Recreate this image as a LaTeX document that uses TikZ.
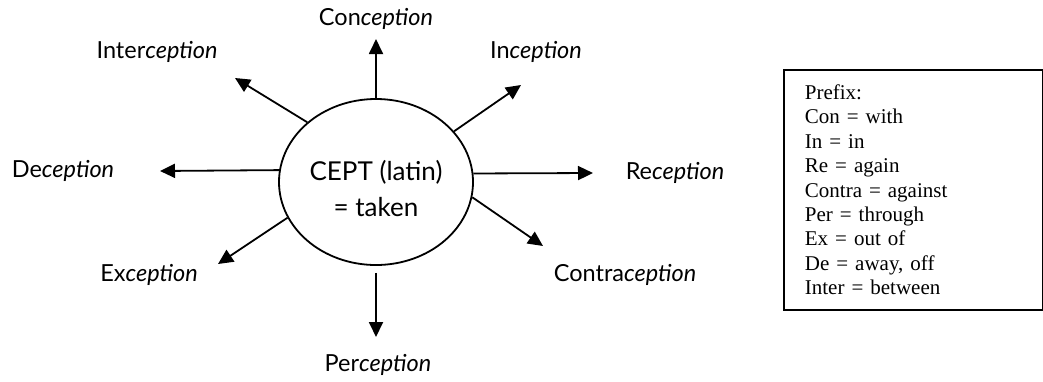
\documentclass[tikz,border=0pt]{standalone}
\usepackage{fontspec}
\setmainfont{Lato}
\newfontfamily\legendfont{Liberation Serif}
\usetikzlibrary{arrows.meta,shapes.geometric,calc}
\begin{document}
\begin{tikzpicture}[x=1pt,y=-1pt,
  arr/.style={line width=1.8pt,-{Triangle[length=15pt,width=14pt]}},
  lab/.style={font=\fontsize{23.5}{28}\selectfont, inner sep=0pt},
  cept/.style={ellipse, draw, line width=1.8pt, minimum width=194pt, minimum height=166pt, inner sep=0pt,
    font=\fontsize{26}{36}\selectfont},
  legendbox/.style={draw, line width=1.8pt, minimum width=259pt, minimum height=240pt,
    inner xsep=21pt, inner ysep=0pt, text width=217pt, align=left,
    font=\legendfont\fontsize{21}{24.4}\selectfont}]
\useasboundingbox (0,0) rectangle (1043,381);

\node[cept] (c) at (376,182) {\raisebox{-9pt}[\height][\depth]{\begin{tabular}{@{}c@{}}CEPT (latin)\\= taken\end{tabular}}};

\node[lab] (conc) at (376,19) {Con\textit{ception}};
\node[lab] (inter) at (157,52) {Inter\textit{ception}};
\node[lab] (inc) at (536,52) {In\textit{ception}};
\node[lab] (dec) at (63,171) {De\textit{ception}};
\node[lab] (rec) at (675,173) {Re\textit{ception}};
\node[lab] (exc) at (149,275) {Ex\textit{ception}};
\node[lab] (contra) at (625,275) {Contra\textit{ception}};
\node[lab] (perc) at (378,365) {Per\textit{ception}};

\coordinate (tU) at (376,39);
\coordinate (tUL) at (235,78);
\coordinate (tL) at (160,171);
\coordinate (tDL) at (218,264);
\coordinate (tD) at (376,337);
\coordinate (tDR) at (543,246);
\coordinate (tR) at (593,173);
\coordinate (tUR) at (521,85);

\draw[arr] (c.north) -- (tU);
\draw[arr] (c.139) -- (tUL);
\draw[arr] (c.173.4) -- (tL);
\draw[arr] (c.202.2) -- (tDL);
\draw[arr] ($(c.south)+(0,7)$) -- (tD);
\draw[arr] (c.-9.5) -- (tDR);
\draw[arr] (c.5.3) -- (tR);
\draw[arr] (c.33.9) -- (tUR);

\node[legendbox, anchor=north west] (legend) at (783,69) {Prefix:\\
Con = with\\
In = in\\
Re = again\\
Contra = against\\
Per = through\\
Ex = out of\\
De = away, off\\
Inter = between};
\end{tikzpicture}
\end{document}
